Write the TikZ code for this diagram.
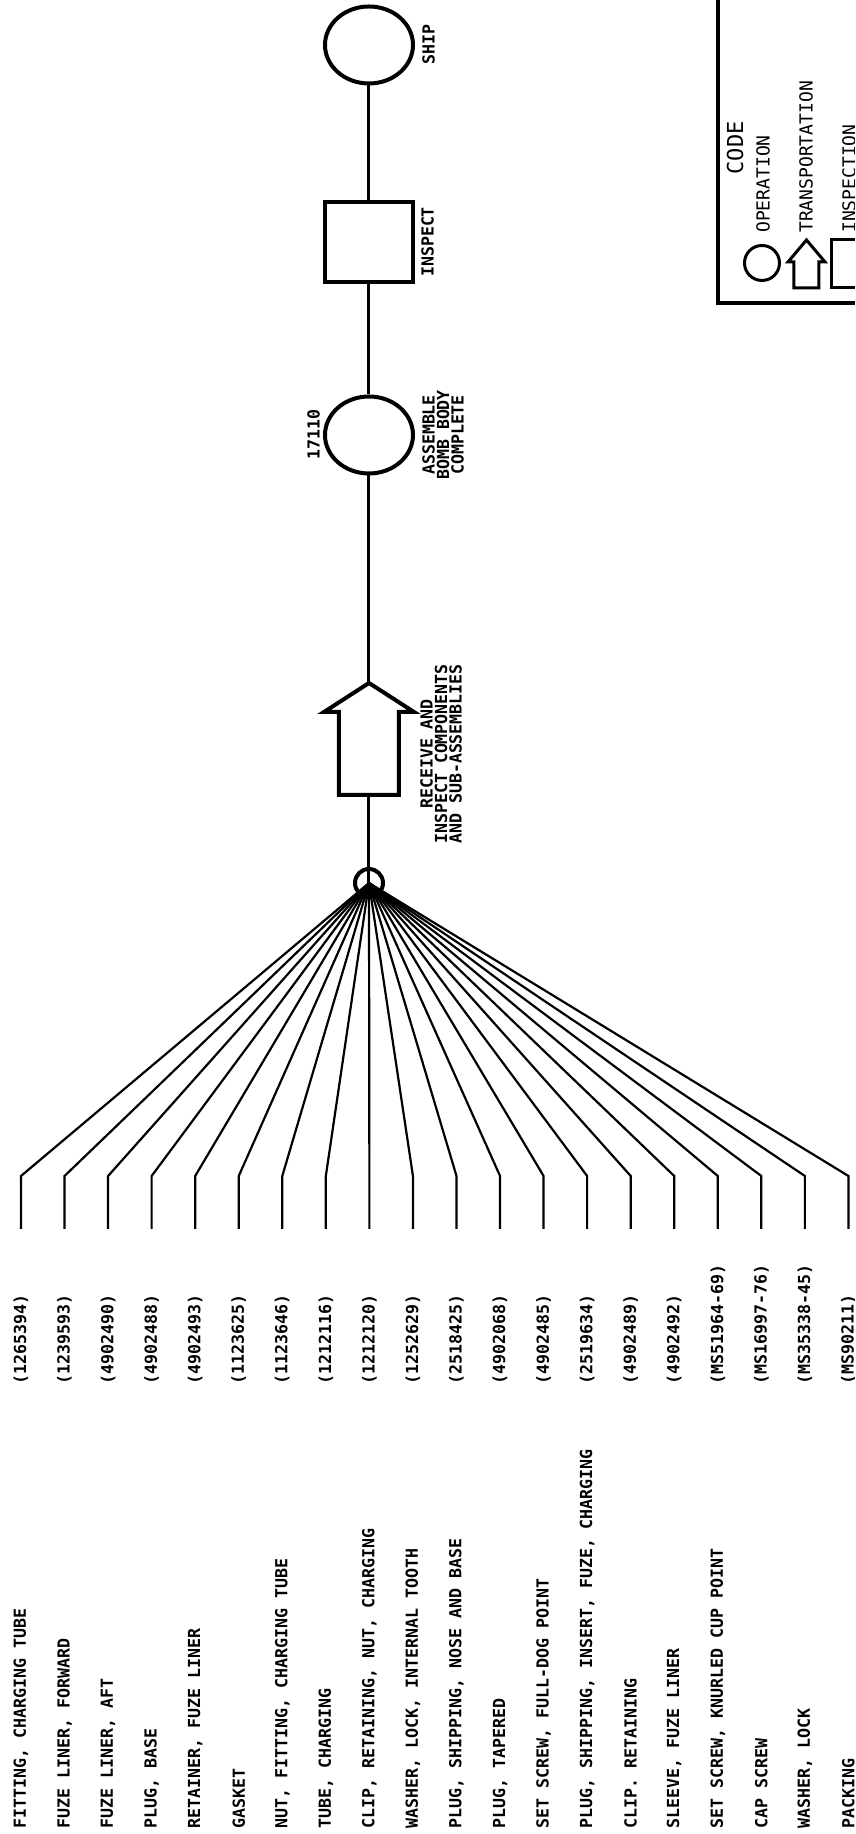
\documentclass[tikz,border=0pt]{standalone}
\usepackage{fontspec}
\setmainfont{DejaVu Sans Mono}
\usetikzlibrary{positioning}
\usetikzlibrary{shapes}

\begin{document}
\begin{tikzpicture}[x=1pt, y=1pt, rotate=90, transform shape]
    \tikzstyle{op} = [draw, ellipse, line width=4pt, minimum width=77pt, minimum height=88pt, inner sep=0pt];
    \tikzstyle{insp} = [draw, rectangle, line width=4pt, minimum width=80pt, minimum height=88pt, inner sep=0pt];
    \tikzstyle{lbl} = [font=\fontsize{16.6}{14.5}\selectfont\bfseries, align=center, inner sep=0pt];
    \tikzstyle{part} = [lbl, anchor=west];
    \tikzstyle{key} = [font=\fontsize{18}{18}\selectfont, anchor=west, inner sep=0pt];
    \tikzstyle{flow} = [line width=3pt];
    \tikzstyle{fan} = [line width=2.2pt];
    \useasboundingbox (0,0) rectangle (1834,855);
    \clip (0,0) rectangle (1834,855);

    \node [draw, circle, line width=4pt, minimum size=28pt, inner sep=0pt] (jn) at (951,486) {};
    \coordinate (rb) at (1039,486);
    \coordinate (rt) at (1151,486);
    \draw [line width=4pt] (rb) -- (1039,456) -- (1122,456) -- (1122,441) -- (rt)
        -- (1122,531) -- (1122,516) -- (1039,516) -- cycle;
    \node [lbl, anchor=north] (recvl) at (1080,435) {RECEIVE AND\\INSPECT COMPONENTS\\AND SUB-ASSEMBLIES};
    \node [op] (asm) at (1399,486) {};
    \node [lbl, anchor=south] (asmn) at (1399,535) {17110};
    \node [lbl, anchor=north] (asml) at (1399,433) {ASSEMBLE\\BOMB BODY\\COMPLETE};
    \node [insp] (insp) at (1592,486) {};
    \node [lbl, anchor=north] (inspl) at (1592,434) {INSPECT};
    \node [op] (ship) at (1789,486) {};
    \node [lbl, anchor=north] (shipl) at (1789,433) {SHIP};
    \draw [flow] (jn.center) -- (rb);
    \draw [flow] (rt) -- (asm);
    \draw [flow] (asm) -- (insp);
    \draw [flow] (insp) -- (ship);

    \foreach \i/\name/\num in {
        1/{FITTING, CHARGING TUBE}/(1265394),
        2/{FUZE LINER, FORWARD}/(1239593),
        3/{FUZE LINER, AFT}/(4902490),
        4/{PLUG, BASE}/(4902488),
        5/{RETAINER, FUZE LINER}/(4902493),
        6/{GASKET}/(1123625),
        7/{NUT, FITTING, CHARGING TUBE}/(1123646),
        8/{TUBE, CHARGING}/(1212116),
        9/{CLIP, RETAINING, NUT, CHARGING}/(1212120),
        10/{WASHER, LOCK, INTERNAL TOOTH}/(1252629),
        11/{PLUG, SHIPPING, NOSE AND BASE}/(2518425),
        12/{PLUG, TAPERED}/(4902068),
        13/{SET SCREW, FULL-DOG POINT}/(4902485),
        14/{PLUG, SHIPPING, INSERT, FUZE, CHARGING}/(2519634),
        15/{CLIP. RETAINING}/(4902489),
        16/{SLEEVE, FUZE LINER}/(4902492),
        17/{SET SCREW, KNURLED CUP POINT}/(MS51964-69),
        18/{CAP SCREW}/(MS16997-76),
        19/{WASHER, LOCK}/(MS35338-45),
        20/{PACKING}/(MS90211)} {
        \pgfmathsetmacro{\y}{834-43.55*(\i-1)}
        \node [part] (n\i) at (5,\y) {\name};
        \node [part] (p\i) at (449,\y) {\num};
        \coordinate (s\i) at (605,\y);
        \coordinate (b\i) at (658,\y);
        \draw [fan] (s\i) -- (b\i) -- (jn.center);
    }

    \draw [line width=3.5pt] (1531,-5) -- (1531,137) -- (1840,137);
    \node [font=\fontsize{22}{22}\selectfont, inner sep=0pt] (code) at (1686,120) {CODE};
    \node [draw, circle, line width=3pt, minimum size=35pt, inner sep=0pt] (kop) at (1571,93) {};
    \node [key] (kopl) at (1601,92) {OPERATION};
    \draw [line width=3pt] (1546,36) -- (1572,36) -- (1572,30) -- (1594,48.5)
        -- (1572,67) -- (1572,61) -- (1546,61) -- cycle;
    \node [key] (ktrl) at (1601,49) {TRANSPORTATION};
    \node [draw, rectangle, line width=3pt, minimum width=48pt, minimum height=36pt, inner sep=0pt] (kin) at (1570,5) {};
    \node [key] (kinl) at (1601,6) {INSPECTION};
\end{tikzpicture}
\end{document}
